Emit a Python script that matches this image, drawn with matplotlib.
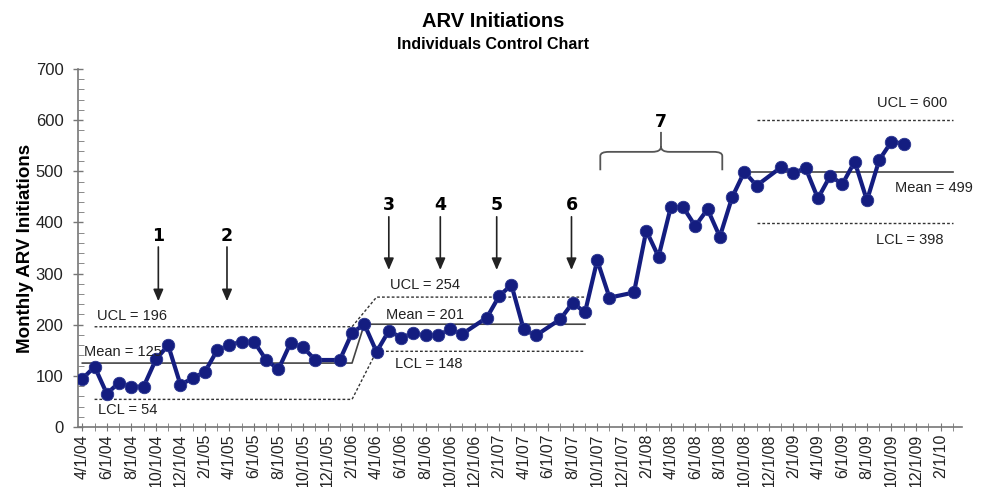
import matplotlib.pyplot as plt
from matplotlib.path import Path
from matplotlib.patches import PathPatch
from matplotlib import font_manager

# month index 0 = 4/1/04
month_idx = [0, 1, 2, 3, 4, 5, 6, 7, 8, 9, 10, 11, 12, 13, 14, 15, 16, 17, 18, 19,
             21, 22, 23, 24, 25, 26, 27, 28, 29, 30, 31, 33, 34, 35, 36, 37, 39, 40,
             41, 42, 43, 45, 46, 47, 48, 49, 50, 51, 52, 53, 54, 55, 57, 58, 59, 60,
             61, 62, 63, 64, 65, 66, 67]
initiations = [94, 118, 65, 87, 79, 79, 132, 160, 83, 95, 108, 150, 160, 167, 167, 131,
               113, 165, 156, 131, 131, 184, 201, 147, 188, 175, 183, 179, 179, 191,
               182, 214, 256, 278, 191, 179, 211, 243, 224, 326, 253, 263, 384, 333,
               430, 430, 393, 426, 372, 449, 499, 472, 508, 497, 506, 447, 491, 475,
               519, 443, 522, 558, 554]

# control limits (phase 1 -> phase 2 with step, then phase 3)
mean_x = [0, 22, 23, 41]
mean_y = [125, 125, 201, 201]
ucl_x = [1, 22, 24, 41]
ucl_y = [196, 196, 254, 254]
lcl_x = [1, 22, 24, 41]
lcl_y = [54, 54, 148, 148]
mean3_x, mean3_y = [54, 71], [499, 499]
ucl3_x, ucl3_y = [55, 71], [600, 600]
lcl3_x, lcl3_y = [55, 71], [398, 398]

limit_labels = [
    ("UCL = 196", 1.2, 217), ("Mean = 125", 0.15, 147), ("LCL = 54", 1.3, 33),
    ("UCL = 254", 25.1, 278), ("Mean = 201", 24.8, 219), ("LCL = 148", 25.5, 123),
    ("UCL = 600", 64.8, 634), ("Mean = 499", 66.3, 467), ("LCL = 398", 64.7, 366),
]

# event arrows: label, month position, text y, arrow top, arrow tip
events = [("1", 6.2, 373, 352, 246), ("2", 11.8, 373, 352, 246),
          ("3", 25.0, 434, 411, 307), ("4", 29.2, 434, 411, 307),
          ("5", 33.8, 434, 411, 307), ("6", 39.9, 434, 411, 307)]

# tick labels every two months
tick_pos = list(range(0, 71, 2))
tick_labels = []
for i in tick_pos:
    mo = (3 + i) % 12 + 1
    yr = 4 + (3 + i) // 12
    tick_labels.append(f"{mo}/1/{yr:02d}")

names = {f.name for f in font_manager.fontManager.ttflist}
narrow = 'Liberation Sans Narrow' if 'Liberation Sans Narrow' in names else 'Liberation Sans'
plt.rcParams['font.family'] = ['Liberation Sans', 'DejaVu Sans']

fig = plt.figure(figsize=(9.84, 4.87), dpi=100)
ax = fig.add_axes([0.0793, 0.1232, 0.8983, 0.7351])

navy = '#141d80'
ax.plot(mean_x, mean_y, color='#444444', lw=1.2, zorder=2)
ax.plot(mean3_x, mean3_y, color='#444444', lw=1.2, zorder=2)
for xs, ys in [(ucl_x, ucl_y), (lcl_x, lcl_y), (ucl3_x, ucl3_y), (lcl3_x, lcl3_y)]:
    ax.plot(xs, ys, color='#333333', lw=1.0, ls=(0, (2, 1.5)), zorder=2)

ax.plot(month_idx, initiations, color=navy, lw=3.0, marker='o', ms=9,
        markerfacecolor=navy, markeredgecolor='#2a3590', markeredgewidth=0.6, zorder=3)

for txt, x, y in limit_labels:
    ax.text(x, y, txt, fontsize=10.5, color='#222222', ha='left', va='center')

for lab, x, ty, top, tip in events:
    ax.text(x, ty, lab, fontsize=12.5, fontweight='bold', ha='center', va='center',
            family=['DejaVu Sans'])
    ax.annotate('', xy=(x, tip), xytext=(x, top),
                arrowprops=dict(arrowstyle='-|>,head_length=0.7,head_width=0.3',
                                color='#222222', lw=1.2, shrinkA=0, shrinkB=0))

# bracket for 7
xl, xr, xc = 42.25, 52.2, 47.2
yb, yh, yp = 502, 538, 577
verts = [(xl, yb), (xl, yh - 8), (xl, yh), (xl + 0.7, yh),
         (xc - 0.7, yh), (xc, yh), (xc, yh + 10), (xc, yp),
         (xc, yh + 10), (xc, yh), (xc + 0.7, yh), (xr - 0.7, yh),
         (xr, yh), (xr, yh - 8), (xr, yb)]
codes = [Path.MOVETO, Path.LINETO, Path.CURVE3, Path.CURVE3,
         Path.LINETO, Path.CURVE3, Path.CURVE3, Path.LINETO,
         Path.MOVETO, Path.CURVE3, Path.CURVE3, Path.LINETO,
         Path.CURVE3, Path.CURVE3, Path.LINETO]
ax.add_patch(PathPatch(Path(verts, codes), fill=False, edgecolor='#555555', lw=1.3))
ax.text(xc, 597, "7", fontsize=12.5, fontweight='bold', ha='center', va='center',
        family=['DejaVu Sans'])

ax.set_xlim(-0.35, 71.75)
ax.set_ylim(0, 700)
ax.set_yticks(range(0, 701, 100))
ax.set_yticks(range(0, 701, 20), minor=True)
ax.set_xticks(tick_pos)
ax.set_xticklabels(tick_labels, rotation=90, fontsize=11.5, va='top', color='#222222')
ax.set_xticks(range(0, 72), minor=True)
ax.tick_params(axis='y', labelsize=12, direction='inout', length=7, color='#777777',
               width=1, pad=7, labelcolor='#222222')
ax.tick_params(axis='y', which='minor', direction='in', length=4, color='#777777')
ax.tick_params(axis='x', which='both', direction='inout', length=6, color='#777777', pad=2)

for s in ['top', 'right']:
    ax.spines[s].set_visible(False)
for s in ['left', 'bottom']:
    ax.spines[s].set_color('#777777')
    ax.spines[s].set_linewidth(1.2)

ax.set_ylabel("Monthly ARV Initiations", fontsize=13.5, fontweight='bold')
ax.yaxis.set_label_coords(-0.05, 0.5)

fig.text(0.501, 0.955, "ARV Initiations", fontsize=14.5, fontweight='bold',
         ha='center', va='center', family=[narrow, 'DejaVu Sans'])
fig.text(0.501, 0.908, "Individuals Control Chart", fontsize=11.5, fontweight='bold',
         ha='center', va='center', family=[narrow, 'DejaVu Sans'])

fig.savefig('out.png', dpi=100)
